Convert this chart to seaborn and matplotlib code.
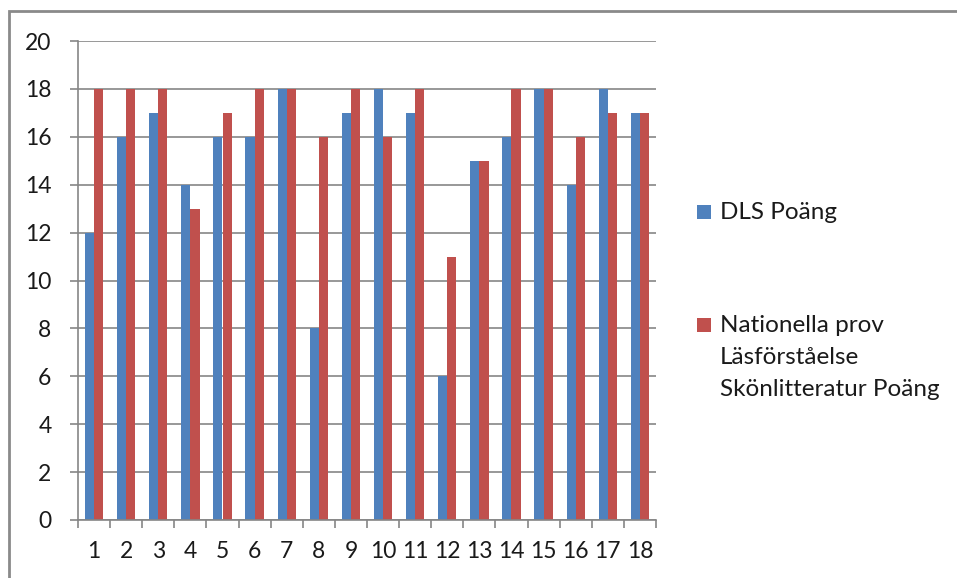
import matplotlib
matplotlib.use("Agg")
import matplotlib.pyplot as plt
from matplotlib.patches import Rectangle
from matplotlib.ticker import FixedLocator, MultipleLocator
import seaborn as sns
import pandas as pd
import numpy as np

# Student numbers and their scores
students = [str(i) for i in range(1, 19)]
dls_scores = [12, 16, 17, 14, 16, 16, 18, 8, 17, 18, 17, 6, 15, 16, 18, 14, 18, 17]
np_scores = [18, 18, 18, 13, 17, 18, 18, 16, 18, 16, 18, 11, 15, 18, 18, 16, 17, 17]
series_names = ["DLS Poäng", "Nationella prov\nLäsförståelse\nSkönlitteratur Poäng"]
series_colors = ["#4F81BD", "#C0504D"]

df = pd.DataFrame({
    "Elev": students * 2,
    "Poäng": dls_scores + np_scores,
    "Serie": [series_names[0]] * len(students) + [series_names[1]] * len(students),
})

sns.set_theme(style="white")
plt.rcParams["font.family"] = ["Lato", "DejaVu Sans"]

W, H = 957, 578
FS = 16.5
LEG_FS = 17.5
TXT = "#1a1a1a"
fig = plt.figure(figsize=(W / 100, H / 100), dpi=100)
ax = fig.add_axes([78 / W, 1 - 520 / H, (656 - 78) / W, (520 - 41) / H])

sns.barplot(data=df, x="Elev", y="Poäng", hue="Serie", order=students,
            hue_order=series_names, palette=series_colors, saturation=1,
            width=0.57, ax=ax, legend=False, edgecolor="none")

grid_c = "#868686"
ax.set_ylim(0, 20)
ax.set_xlim(-0.5, len(students) - 0.5)
ax.yaxis.set_major_locator(MultipleLocator(2))
ax.grid(axis="y", color=grid_c, linewidth=1.2)
ax.set_axisbelow(True)
ax.set_xlabel("")
ax.set_ylabel("")
for s in ["top", "right"]:
    ax.spines[s].set_visible(False)
for s in ["left", "bottom"]:
    ax.spines[s].set_color(grid_c)
    ax.spines[s].set_linewidth(1.2)

# category labels at centres, tick marks at category boundaries
ax.tick_params(axis="x", which="major", length=0, pad=15, labelsize=FS, labelcolor=TXT)
ax.xaxis.set_minor_locator(FixedLocator(np.arange(-0.5, len(students), 1.0)))
ax.tick_params(axis="x", which="minor", direction="out", length=6, width=1.2, color=grid_c, bottom=True)
ax.tick_params(axis="y", direction="out", length=6, width=1.2, color=grid_c, left=True,
               pad=13, labelsize=FS, labelcolor=TXT)

# outer chart frame
fig.patches.append(Rectangle((9 / W, -0.1), 1.2, 1 - 11 / H + 0.1, transform=fig.transFigure,
                             fill=False, edgecolor="#8a8a8a", linewidth=2, zorder=0))

# legend
def legend_entry(y_px, color, lines):
    fig.patches.append(Rectangle((697 / W, 1 - (y_px + 7) / H), 14 / W, 14 / H,
                                 transform=fig.transFigure, facecolor=color, edgecolor="none"))
    for i, line in enumerate(lines):
        fig.text(720 / W, 1 - (y_px + 32 * i) / H, line, fontsize=LEG_FS, color=TXT,
                 va="center", ha="left")

legend_entry(212, series_colors[0], series_names[0].split("\n"))
legend_entry(325, series_colors[1], series_names[1].split("\n"))

fig.savefig("out.png", dpi=100)
